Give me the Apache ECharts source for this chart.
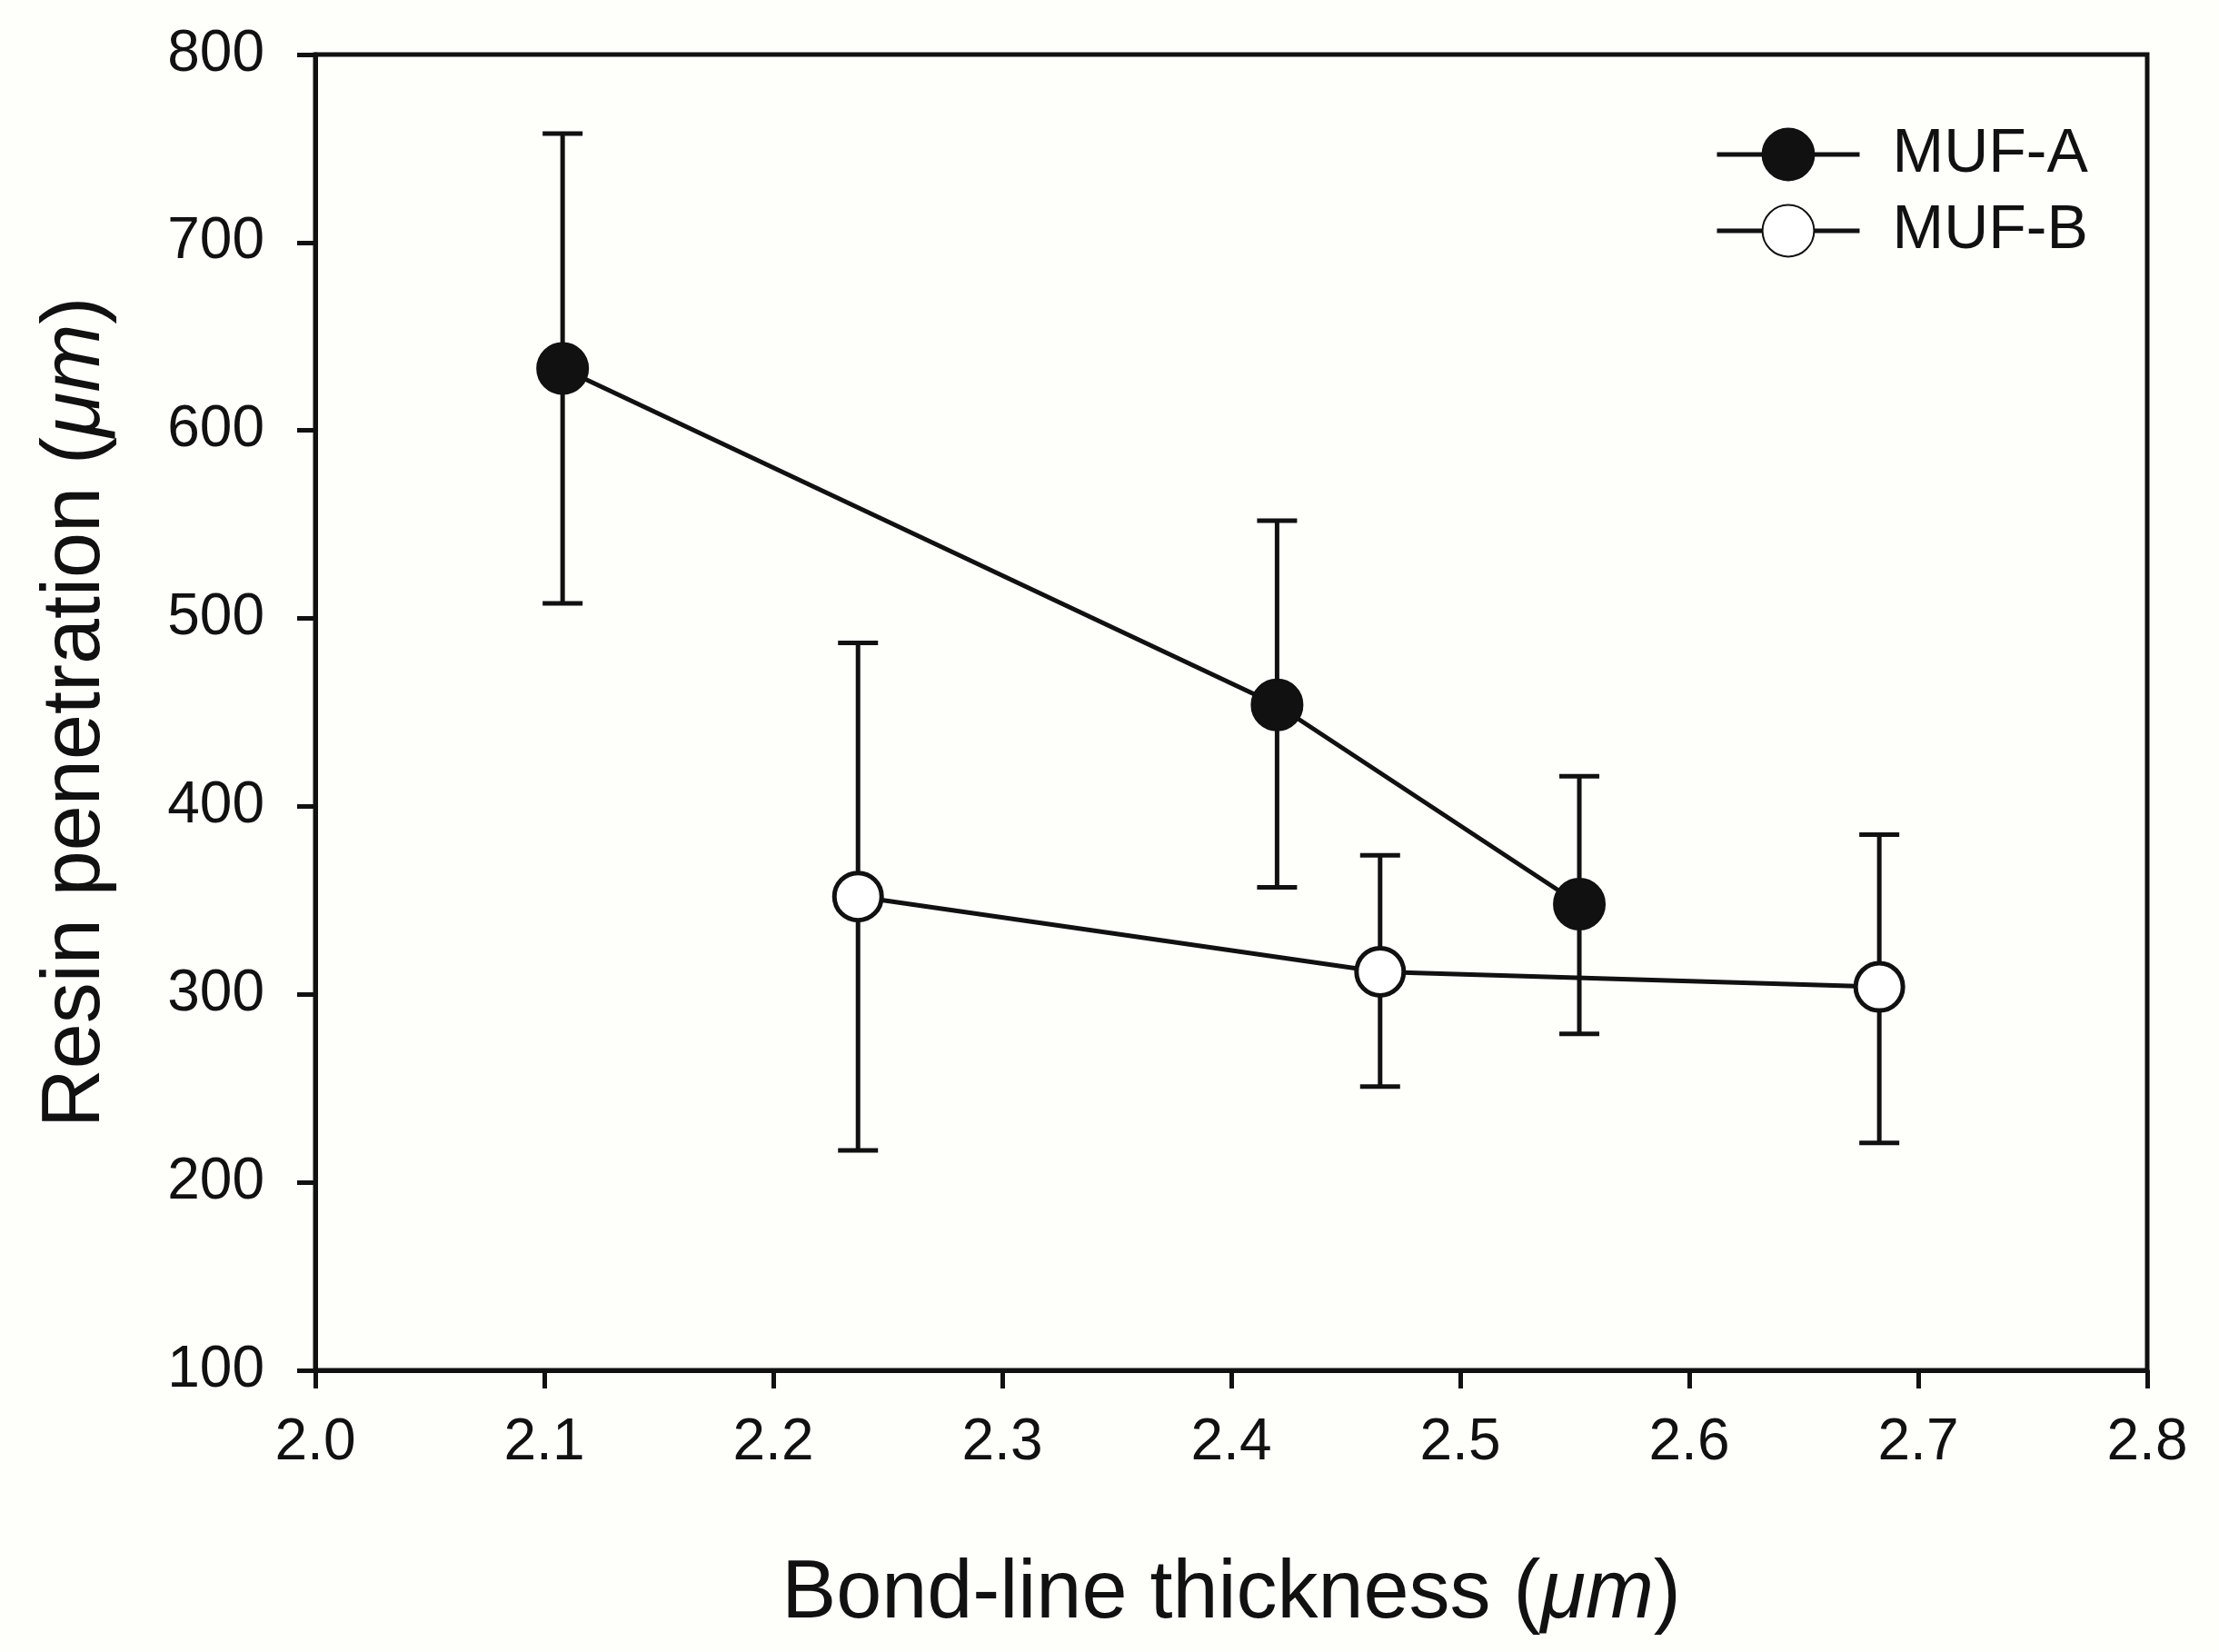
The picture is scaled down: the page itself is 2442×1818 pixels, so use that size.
<!DOCTYPE html>
<html>
<head>
<meta charset="utf-8">
<script src="https://cdn.jsdelivr.net/npm/echarts@6/dist/echarts.min.js"></script>
<style>
html,body{margin:0;padding:0;background:#fefefb;}
#chart{width:2442px;height:1818px;}
</style>
</head>
<body>
<div id="chart"></div>
<script>
// Data
const seriesNames = ['MUF-A', 'MUF-B'];
const mufA_x = [2.108, 2.420, 2.552];
const mufA_y = [633, 454, 348];
const mufA_lo = [508, 357, 279];
const mufA_hi = [758, 552, 416];
const mufB_x = [2.237, 2.465, 2.683];
const mufB_y = [352, 312, 304];
const mufB_lo = [217, 251, 221];
const mufB_hi = [487, 374, 385];
const xTicks = [2.0, 2.1, 2.2, 2.3, 2.4, 2.5, 2.6, 2.7, 2.8];
const yTicks = [100, 200, 300, 400, 500, 600, 700, 800];

const INK = '#111111';
const FONT = '"Liberation Sans", Arial, sans-serif';
const LW = 5;

function pts(xs, ys) { return xs.map((x, i) => [x, ys[i]]); }
function bars(xs, lo, hi) { return xs.map((x, i) => [x, lo[i], hi[i]]); }

function errRender(params, api) {
  const x = api.value(0), lo = api.value(1), hi = api.value(2);
  const a = api.coord([x, hi]);
  const b = api.coord([x, lo]);
  const hw = 22;
  const style = { stroke: INK, lineWidth: LW, fill: null };
  return {
    type: 'group',
    children: [
      { type: 'line', shape: { x1: a[0], y1: a[1], x2: b[0], y2: b[1] }, style: style },
      { type: 'line', shape: { x1: a[0] - hw, y1: a[1], x2: a[0] + hw, y2: a[1] }, style: style },
      { type: 'line', shape: { x1: b[0] - hw, y1: b[1], x2: b[0] + hw, y2: b[1] }, style: style }
    ]
  };
}

const chart = echarts.init(document.getElementById('chart'));
chart.setOption({
  animation: false,
  backgroundColor: '#fefefb',
  textStyle: { fontFamily: FONT, color: INK },
  grid: {
    left: 347, right: 79, top: 60, bottom: 310,
    show: true, borderColor: INK, borderWidth: LW, backgroundColor: 'transparent'
  },
  legend: {
    data: seriesNames,
    orient: 'vertical',
    left: 1882,
    top: 131,
    itemWidth: 157,
    itemHeight: 71,
    itemGap: 16,
    lineStyle: { width: LW, color: INK },
    textStyle: { fontSize: 68, color: INK, fontFamily: FONT, padding: [0, 0, 0, 31] }
  },
  xAxis: {
    type: 'value',
    min: 2.0, max: 2.8, interval: 0.1,
    name: 'Bond-line thickness ({i|μm})',
    nameLocation: 'middle',
    nameGap: 202,
    nameTextStyle: {
      fontSize: 90, color: INK, fontFamily: FONT,
      rich: { i: { fontSize: 90, fontStyle: 'italic', color: INK, fontFamily: FONT } }
    },
    axisLine: { show: true, lineStyle: { color: INK, width: LW } },
    axisTick: { show: true, inside: false, length: 20, lineStyle: { color: INK, width: LW } },
    axisLabel: {
      fontSize: 64, color: INK, fontFamily: FONT, margin: 48,
      formatter: v => Number(v).toFixed(1)
    },
    splitLine: { show: false }
  },
  yAxis: {
    type: 'value',
    min: 100, max: 800, interval: 100,
    name: 'Resin penetration ({i|μm})',
    nameLocation: 'middle',
    nameGap: 218,
    nameTextStyle: {
      fontSize: 90, color: INK, fontFamily: FONT,
      rich: { i: { fontSize: 90, fontStyle: 'italic', color: INK, fontFamily: FONT } }
    },
    axisLine: { show: true, lineStyle: { color: INK, width: LW } },
    axisTick: { show: true, inside: false, length: 20, lineStyle: { color: INK, width: LW } },
    axisLabel: { fontSize: 64, color: INK, fontFamily: FONT, margin: 56 },
    splitLine: { show: false }
  },
  series: [
    {
      name: 'errA', type: 'custom', z: 1,
      renderItem: errRender,
      encode: { x: 0, y: [1, 2] },
      data: bars(mufA_x, mufA_lo, mufA_hi),
      silent: true
    },
    {
      name: 'errB', type: 'custom', z: 1,
      renderItem: errRender,
      encode: { x: 0, y: [1, 2] },
      data: bars(mufB_x, mufB_lo, mufB_hi),
      silent: true
    },
    {
      name: seriesNames[0], type: 'line', z: 3,
      data: pts(mufA_x, mufA_y),
      symbol: 'circle', symbolSize: 56,
      lineStyle: { color: INK, width: LW },
      itemStyle: { color: INK, borderColor: INK, borderWidth: 2 }
    },
    {
      name: seriesNames[1], type: 'line', z: 3,
      data: pts(mufB_x, mufB_y),
      symbol: 'circle', symbolSize: 52,
      lineStyle: { color: INK, width: LW },
      itemStyle: { color: '#ffffff', borderColor: INK, borderWidth: LW }
    }
  ]
});
</script>
</body>
</html>
